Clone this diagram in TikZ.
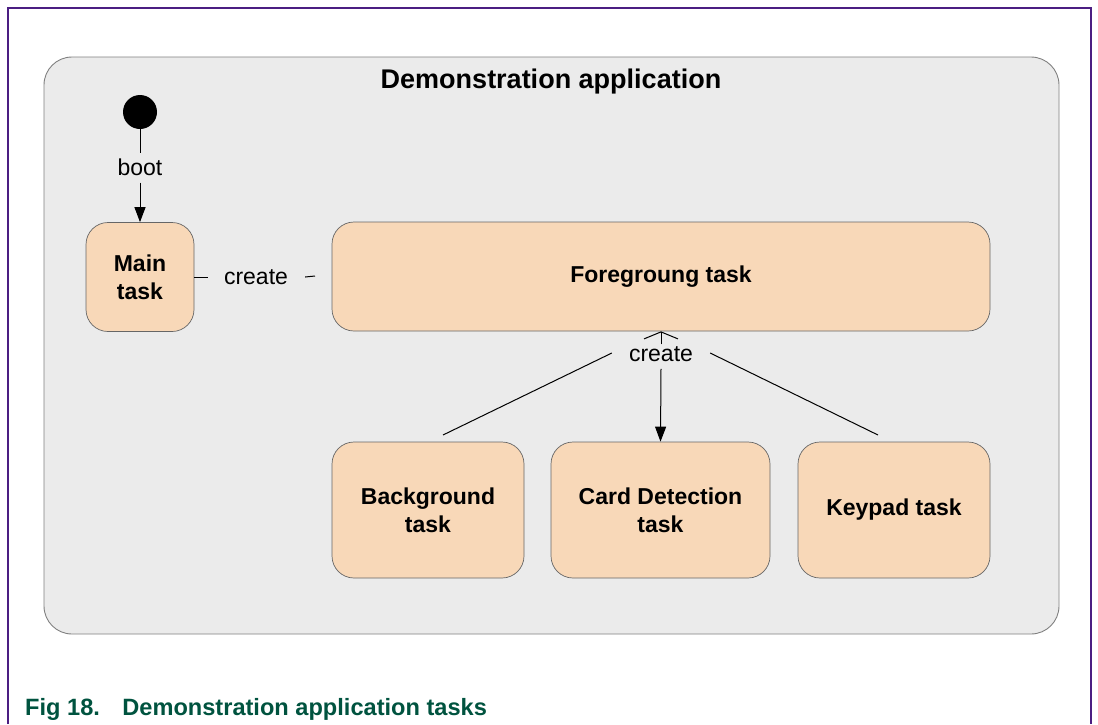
\documentclass[tikz,border=0pt]{standalone}
\usepackage{fontspec}
\setmainfont{Liberation Sans}
\usetikzlibrary{arrows.meta}
\definecolor{frameviolet}{HTML}{4B1E82}
\definecolor{panelgray}{HTML}{EBEBEB}
\definecolor{panelline}{HTML}{808080}
\definecolor{taskfill}{HTML}{F8D8B8}
\definecolor{captiongreen}{HTML}{00533F}
\tikzset{
  x=1pt, y=-1pt,
  panel/.style={draw=panelline, fill=panelgray, rounded corners=28pt, line width=0.9pt},
  task/.style={draw=black!60, fill=taskfill, rounded corners=22pt, line width=0.7pt,
    font=\fontsize{23}{28}\selectfont\bfseries, align=center, inner sep=0pt},
  lbl/.style={font=\fontsize{23}{27}\selectfont, inner sep=0pt},
  conn/.style={line width=1pt},
  tip/.style={-{Triangle[length=15pt,width=11pt]}},
  opentip/.style={-{Straight Barb[length=7pt,width=34pt,line width=1pt]}}
}
\begin{document}
\begin{tikzpicture}
\useasboundingbox (0,0) rectangle (1098,724);
% page frame
\draw[frameviolet, line width=1.2pt] (8,724) -- (8,8) -- (1091,8) -- (1091,724);
% application panel
\draw[panel] (44,57) rectangle (1059,634);
\node[font=\fontsize{27}{30}\selectfont\bfseries] (title) at (551,82) {Demonstration application};
% initial state
\node[circle, fill=black, minimum size=34pt, inner sep=0pt] (start) at (140,112) {};
% tasks
\node[task, minimum width=108pt, minimum height=109pt] (main) at (140,277) {Main\\task};
\node[task, minimum width=658pt, minimum height=109pt] (fg) at (661,276.5) {Foregroung task};
\node[task, minimum width=192pt, minimum height=136pt] (bg) at (428,510) {Background\\task};
\node[task, minimum width=219pt, minimum height=136pt] (card) at (660.5,510) {Card Detection\\task};
\node[task, minimum width=192pt, minimum height=136pt] (key) at (894,510) {Keypad task};
% boot transition
\node[lbl] (boot) at (140,167) {boot};
\draw[conn] (start.south) -- ([yshift=5pt]boot.north);
\draw[conn, tip] ([yshift=-7pt]boot.south) -- (main.north);
% create: main -> foreground
\node[lbl] (c1) at (256,277) {create};
\draw[conn] (main.east) -- ([xshift=-16pt]c1.west);
\coordinate (c1end) at (315,276);
\draw[conn] ([xshift=17pt]c1.east) -- (c1end);
% create: foreground -> children
\node[lbl] (c2) at (661,354) {create};
\coordinate (bgend) at (443,435);
\coordinate (keyend) at (878,435);
\draw[conn, opentip] ([yshift=2pt]c2.north) -- (fg.south);
\draw[conn, tip] ([yshift=-7pt]c2.south) -- (card.north);
\draw[conn] ([xshift=-17pt,yshift=1pt]c2.west) -- (bgend);
\draw[conn] ([xshift=17pt,yshift=1pt]c2.east) -- (keyend);
% caption
\node[anchor=base west, text=captiongreen, font=\fontsize{23.6}{27}\selectfont\bfseries, inner sep=0pt] (cap) at (25,715) {Fig 18.\hspace{0.95em}Demonstration application tasks};
\end{tikzpicture}
\end{document}
